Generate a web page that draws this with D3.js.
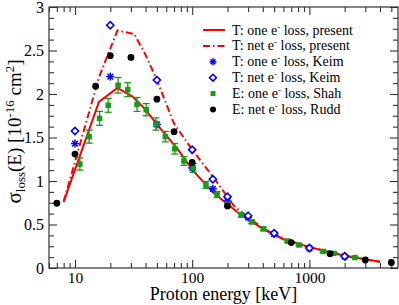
<!DOCTYPE html>
<html>
<head>
<meta charset="utf-8">
<script src="https://cdn.jsdelivr.net/npm/d3@7"></script>
<style>
  body { margin: 0; background: #fff; }
  svg { display: block; font-family: "Liberation Serif", "DejaVu Serif", serif; }
</style>
</head>
<body>
<svg id="chart" width="399" height="305"></svg>
<script>
// theory curves (present work)
const oneLossE = [8, 16, 23, 31, 40, 50, 75, 100, 150, 250, 400, 600, 1000, 2000, 4000];
const oneLossV = [0.76, 1.91, 2.07, 1.97, 1.82, 1.65, 1.37, 1.13, 0.87, 0.63, 0.45, 0.33, 0.24, 0.14, 0.072];
const netLossE = [8, 16, 23, 32, 40, 50, 70, 100, 160, 225, 300, 400, 600, 1000, 2000, 4000];
const netLossV = [0.76, 2.19, 2.73, 2.69, 2.45, 2.16, 1.66, 1.36, 1.0, 0.72, 0.58, 0.46, 0.335, 0.24, 0.14, 0.072];

// Keim
const keimE = [10, 20, 50, 100, 150, 200, 300, 500, 1000, 2000];
const keimOne = [1.43, 2.20, 1.65, 1.15, 0.91, 0.77, 0.58, 0.39, 0.225, 0.13];
const keimNet = [1.575, 2.79, 2.16, 1.36, 1.02, 0.82, 0.60, 0.40, 0.23, 0.135];

// Shah (one e- loss, with error bars)
const shahE = [11, 13.2, 16.2, 19.2, 23.3, 28.2, 33.8, 40.5, 49, 59, 71, 85, 102, 131, 163, 200, 262, 322, 405, 650, 815, 1310, 1620, 2450];
const shahV = [1.195, 1.51, 1.72, 1.87, 2.10, 2.05, 1.88, 1.82, 1.655, 1.51, 1.37, 1.23, 1.15, 0.955, 0.845, 0.735, 0.61, 0.53, 0.45, 0.31, 0.265, 0.19, 0.168, 0.12];
const shahErr = [0.07, 0.075, 0.08, 0.08, 0.09, 0.08, 0.08, 0.07, 0.07, 0.06, 0.06, 0.05, 0.05, 0.04, 0.035, 0.03, 0.025, 0.02, 0.02, 0.015, 0.012, 0.01, 0.01, 0.008];

// Rudd (net e- loss)
const ruddE = [7, 10, 15, 20, 30, 50, 70, 100, 200, 700, 1500, 3000, 5000];
const ruddV = [0.744, 1.31, 2.09, 2.44, 2.42, 1.94, 1.567, 1.215, 0.713, 0.292, 0.165, 0.092, 0.063];

const xMajor = [10, 100, 1000];
const xMinor = [6, 7, 8, 9, 20, 30, 40, 50, 60, 70, 80, 90, 200, 300, 400, 500, 600, 700, 800, 900, 2000, 3000, 4000, 5000];
const yMajor = [0, 0.5, 1, 1.5, 2, 2.5, 3];
const yMinor = d3.range(0, 3.01, 0.125).filter(v => Math.abs(v * 2 - Math.round(v * 2)) > 1e-6);

const legendLabels = [
  ["T: one e", " loss, present"],
  ["T: net e", " loss, present"],
  ["T: one e", " loss, Keim"],
  ["T: net e", " loss, Keim"],
  ["E: one e", " loss, Shah"],
  ["E: net e", " loss, Rudd"]
];

const RED = "#ff0000", BLUE = "#0000ff", GREEN = "#169c16";

const svg = d3.select("#chart");
const margin = {left: 49, right: 1, top: 7, bottom: 37};
const W = 399, H = 305;

const x = d3.scaleLog().domain([6, 5700]).range([margin.left, W - margin.right]);
const y = d3.scaleLinear().domain([0, 3]).range([H - margin.bottom, margin.top]);

const x0 = margin.left, x1 = W - margin.right, y0 = H - margin.bottom, y1 = margin.top;

// axes, ticks pointing inward on all four sides
function styleAxis(g) {
  g.select(".domain").remove();
  g.selectAll(".tick line").attr("stroke", "#333").attr("stroke-width", 1.1);
}

svg.append("g").attr("transform", `translate(0,${y0})`)
  .call(d3.axisBottom(x).tickValues(xMajor).tickSize(-8).tickPadding(4).tickFormat(d3.format("d")))
  .call(styleAxis)
  .call(g => g.selectAll("text").attr("font-size", 15.5).attr("fill", "#000").attr("font-family", "Liberation Serif"));
svg.append("g").attr("transform", `translate(0,${y0})`)
  .call(d3.axisBottom(x).tickValues(xMinor).tickSize(-5).tickFormat(""))
  .call(styleAxis);
svg.append("g").attr("transform", `translate(0,${y1})`)
  .call(d3.axisTop(x).tickValues(xMajor).tickSize(-8).tickFormat(""))
  .call(styleAxis);
svg.append("g").attr("transform", `translate(0,${y1})`)
  .call(d3.axisTop(x).tickValues(xMinor).tickSize(-5).tickFormat(""))
  .call(styleAxis);

svg.append("g").attr("transform", `translate(${x0},0)`)
  .call(d3.axisLeft(y).tickValues(yMajor).tickSize(-8).tickPadding(5).tickFormat(d => String(d)))
  .call(styleAxis)
  .call(g => g.selectAll("text").attr("font-size", 16).attr("fill", "#000").attr("font-family", "Liberation Serif"));
svg.append("g").attr("transform", `translate(${x0},0)`)
  .call(d3.axisLeft(y).tickValues(yMinor).tickSize(-5).tickFormat(""))
  .call(styleAxis);
svg.append("g").attr("transform", `translate(${x1},0)`)
  .call(d3.axisRight(y).tickValues(yMajor).tickSize(-8).tickFormat(""))
  .call(styleAxis);
svg.append("g").attr("transform", `translate(${x1},0)`)
  .call(d3.axisRight(y).tickValues(yMinor).tickSize(-5).tickFormat(""))
  .call(styleAxis);

svg.append("rect")
  .attr("x", x0).attr("y", y1).attr("width", x1 - x0).attr("height", y0 - y1)
  .attr("fill", "none").attr("stroke", "#333").attr("stroke-width", 1.2);

// axis titles
svg.append("text")
  .attr("x", (x0 + x1) / 2).attr("y", 299.5)
  .attr("text-anchor", "middle").attr("font-size", 18)
  .text("Proton energy [keV]");

const yt = svg.append("text")
  .attr("transform", `translate(21,${(y0 + y1) / 2 - 6}) rotate(-90)`)
  .attr("text-anchor", "middle").attr("font-size", 19);
yt.append("tspan").attr("font-size", 21).text("σ");
yt.append("tspan").attr("font-size", 13).attr("dy", 4).text("loss");
yt.append("tspan").attr("dy", -4).text("(E) [10");
yt.append("tspan").attr("font-size", 13).attr("dy", -7).text("-16");
yt.append("tspan").attr("dy", 7).text(" cm");
yt.append("tspan").attr("font-size", 13).attr("dy", -7).text("2");
yt.append("tspan").attr("dy", 7).text("]");

// lines
const line = d3.line().x(d => x(d[0])).y(d => y(d[1]));
const plot = svg.append("g");

plot.append("path")
  .datum(d3.zip(netLossE, netLossV))
  .attr("fill", "none").attr("stroke", RED).attr("stroke-width", 2)
  .attr("stroke-dasharray", "7,3,1.5,3")
  .attr("d", line);

plot.append("path")
  .datum(d3.zip(oneLossE, oneLossV))
  .attr("fill", "none").attr("stroke", RED).attr("stroke-width", 2)
  .attr("d", line);

// marker drawers
function asterisk(g, cx, cy, r) {
  for (let a = 0; a < 4; a++) {
    const t = a * Math.PI / 4;
    g.append("line")
      .attr("x1", cx - r * Math.cos(t)).attr("y1", cy - r * Math.sin(t))
      .attr("x2", cx + r * Math.cos(t)).attr("y2", cy + r * Math.sin(t))
      .attr("stroke", BLUE).attr("stroke-width", 1.5);
  }
}
function diamond(g, cx, cy, r) {
  g.append("path")
    .attr("d", `M${cx},${cy - r}L${cx + r},${cy}L${cx},${cy + r}L${cx - r},${cy}Z`)
    .attr("fill", "#fff").attr("stroke", BLUE).attr("stroke-width", 1.6);
}
function square(g, cx, cy, s) {
  g.append("rect").attr("x", cx - s / 2).attr("y", cy - s / 2)
    .attr("width", s).attr("height", s).attr("fill", GREEN);
}
function dot(g, cx, cy, r) {
  g.append("circle").attr("cx", cx).attr("cy", cy).attr("r", r).attr("fill", "#000");
}

// Shah error bars
const errG = plot.append("g").attr("stroke", GREEN).attr("stroke-width", 1.3);
shahE.forEach((e, i) => {
  const cx = x(e), ya = y(shahV[i] + shahErr[i]), yb = y(shahV[i] - shahErr[i]);
  errG.append("line").attr("x1", cx).attr("x2", cx).attr("y1", ya).attr("y2", yb);
  errG.append("line").attr("x1", cx - 3.5).attr("x2", cx + 3.5).attr("y1", ya).attr("y2", ya);
  errG.append("line").attr("x1", cx - 3.5).attr("x2", cx + 3.5).attr("y1", yb).attr("y2", yb);
});

const mk = plot.append("g");
keimE.forEach((e, i) => asterisk(mk, x(e), y(keimOne[i]), 4));
keimE.forEach((e, i) => diamond(mk, x(e), y(keimNet[i]), 3.6));
shahE.forEach((e, i) => square(mk, x(e), y(shahV[i]), 5.5));
ruddE.forEach((e, i) => dot(mk, x(e), y(ruddV[i]), 3.4));

// legend
const lg = svg.append("g");
const ly0 = 30, ldy = 15.9, lx = 213, ltx = 232;
legendLabels.forEach((lab, i) => {
  const cy = ly0 + i * ldy;
  if (i === 0) lg.append("line").attr("x1", 203).attr("x2", 225).attr("y1", cy).attr("y2", cy).attr("stroke", RED).attr("stroke-width", 2);
  if (i === 1) lg.append("line").attr("x1", 203).attr("x2", 225).attr("y1", cy).attr("y2", cy).attr("stroke", RED).attr("stroke-width", 2).attr("stroke-dasharray", "7,3,1.5,3");
  if (i === 2) asterisk(lg, lx, cy, 3.5);
  if (i === 3) diamond(lg, lx, cy, 3.4);
  if (i === 4) square(lg, lx, cy, 5);
  if (i === 5) dot(lg, lx, cy, 3);
  const t = lg.append("text").attr("x", ltx).attr("y", cy + 4.5).attr("font-size", 14);
  t.append("tspan").text(lab[0]);
  t.append("tspan").attr("font-size", 9).attr("dy", -5).text("-");
  t.append("tspan").attr("dy", 5).text(lab[1]);
});
</script>
</body>
</html>
